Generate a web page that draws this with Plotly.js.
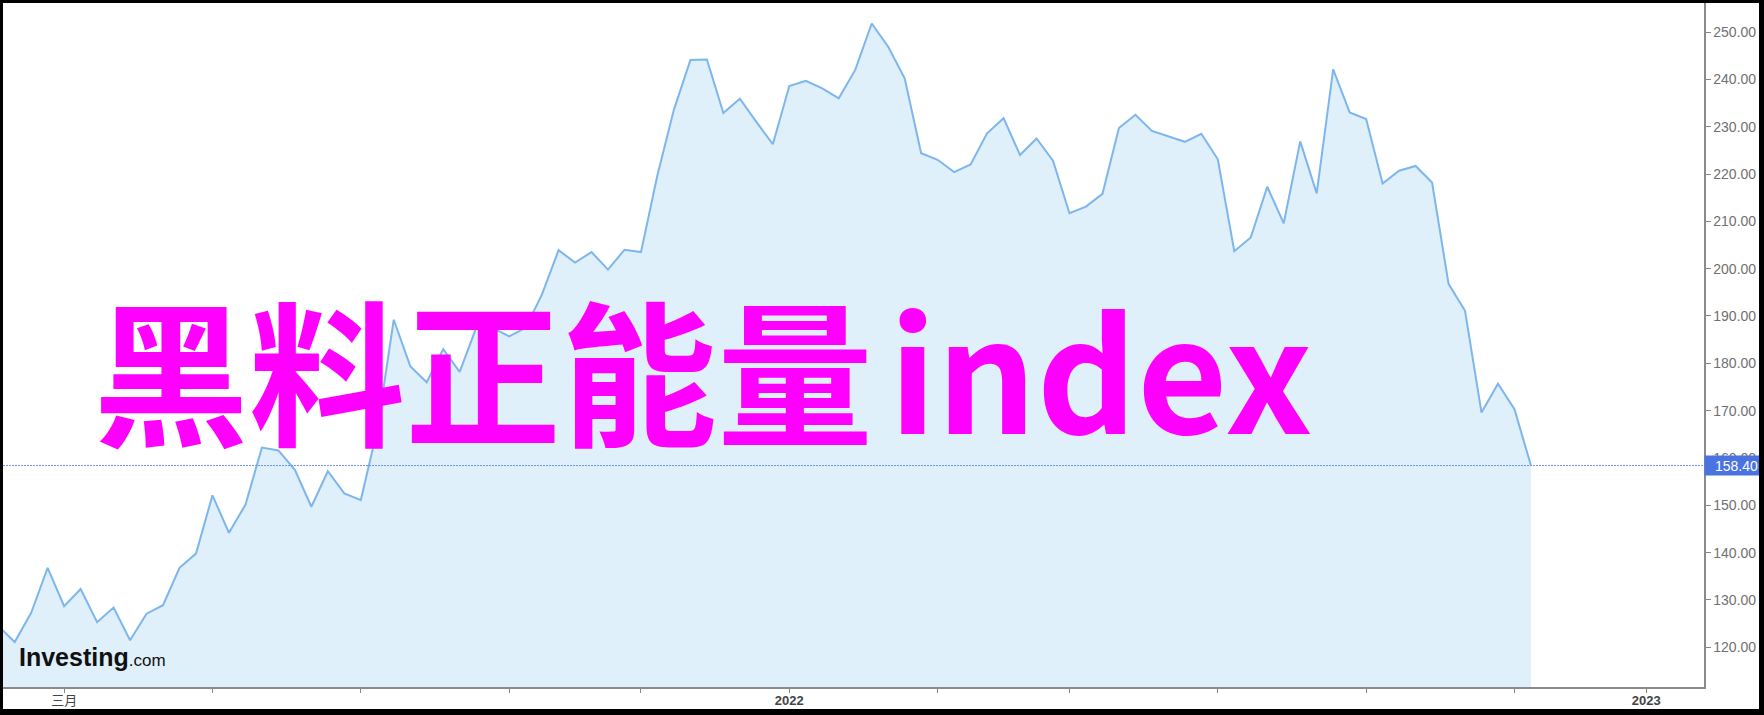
<!DOCTYPE html>
<html>
<head>
<meta charset="utf-8">
<script src="https://cdn.plot.ly/plotly-3.0.1.min.js"></script>
<style>
  html, body { margin: 0; padding: 0; background: #000; }
  #chart { position: absolute; left: 3px; top: 3px; width: 1756px; height: 706px; background: #fff; }
</style>
</head>
<body>
<div id="chart"></div>
<script>
// Weekly dates (Mondays)
const dates = [
  '2021-02-01','2021-02-08','2021-02-15','2021-02-22','2021-03-01','2021-03-08','2021-03-15','2021-03-22','2021-03-29',
  '2021-04-05','2021-04-12','2021-04-19','2021-04-26','2021-05-03','2021-05-10','2021-05-17','2021-05-24','2021-05-31',
  '2021-06-07','2021-06-14','2021-06-21','2021-06-28','2021-07-05','2021-07-12','2021-07-19','2021-07-26',
  '2021-08-02','2021-08-09','2021-08-16','2021-08-23','2021-08-30','2021-09-06','2021-09-13','2021-09-20','2021-09-27',
  '2021-10-04','2021-10-11','2021-10-18','2021-10-25','2021-11-01','2021-11-08','2021-11-15','2021-11-22','2021-11-29',
  '2021-12-06','2021-12-13','2021-12-20','2021-12-27',
  '2022-01-03','2022-01-10','2022-01-17','2022-01-24','2022-01-31','2022-02-07','2022-02-14','2022-02-21','2022-02-28',
  '2022-03-07','2022-03-14','2022-03-21','2022-03-28','2022-04-04','2022-04-11','2022-04-18','2022-04-25',
  '2022-05-02','2022-05-09','2022-05-16','2022-05-23','2022-05-30','2022-06-06','2022-06-13','2022-06-20','2022-06-27',
  '2022-07-04','2022-07-11','2022-07-18','2022-07-25','2022-08-01','2022-08-08','2022-08-15','2022-08-22','2022-08-29',
  '2022-09-05','2022-09-12','2022-09-19','2022-09-26','2022-10-03','2022-10-10','2022-10-17','2022-10-24','2022-10-31',
  '2022-11-07','2022-11-14'
];
// Weekly close values
const closes = [
  124.5,121.1,127.3,136.8,128.7,132.3,125.3,128.4,121.5,
  127.1,128.9,136.8,139.8,152.1,144.2,150.1,162.2,161.6,
  157.5,149.7,157.2,152.5,151.1,166.0,189.2,179.4,
  176.0,183.0,178.2,187.5,187.5,185.7,187.5,194.6,203.9,
  201.3,203.5,199.8,204.0,203.5,219.8,233.6,244.1,244.2,
  232.9,235.9,231.0,226.3,
  238.6,239.7,238.1,236.0,242.0,251.8,246.9,240.2,224.4,
  223.0,220.4,222.0,228.6,231.8,224.0,227.5,222.8,
  211.7,213.1,215.8,229.7,232.5,229.1,227.9,226.8,228.5,
  223.1,203.7,206.6,217.3,209.6,226.9,215.9,242.1,233.0,
  231.6,218.0,220.7,221.7,218.2,196.8,191.1,169.6,175.7,
  170.3,158.4
];
// X tick positions (first weekly point of every second month) and labels
const xTickVals = ['2021-03-01','2021-05-03','2021-07-05','2021-09-06','2021-11-01','2022-01-03',
                   '2022-03-07','2022-05-02','2022-07-04','2022-09-05','2022-11-07','2023-01-02'];
const xTickText = ['三月','','','','','<b>2022</b>','','','','','','<b>2023</b>'];
const xRange = ['2021-02-03 00:43', '2023-01-26 12:00'];
const yRange = [111.61, 256.13];
const lastValue = closes[closes.length - 1];
const watermarkCJK = '黑料正能量';
const watermarkLatin = 'index';

const trace = {
  type: 'scatter',
  mode: 'lines',
  x: dates,
  y: closes,
  line: { color: '#7db6ec', width: 2 },
  fill: 'tozeroy',
  fillcolor: '#dff0fa',
  hoverinfo: 'skip'
};

const layout = {
  width: 1756,
  height: 706,
  margin: { l: 0, r: 55, t: 0, b: 22, pad: 0 },
  paper_bgcolor: '#ffffff',
  plot_bgcolor: '#ffffff',
  showlegend: false,
  font: { family: 'Liberation Sans, Arial, "Noto Sans CJK SC", sans-serif' },
  xaxis: {
    type: 'date',
    range: xRange,
    tickmode: 'array',
    tickvals: xTickVals,
    ticktext: xTickText,
    ticks: 'outside',
    ticklen: 4,
    tickwidth: 1,
    tickcolor: '#888888',
    ticklabelstandoff: -3,
    showline: true,
    linecolor: '#8a8a8a',
    linewidth: 1.5,
    showgrid: false,
    zeroline: false,
    automargin: false,
    tickfont: { size: 13, color: '#444444', family: 'Liberation Sans, Arial, "Noto Sans CJK SC", sans-serif' }
  },
  yaxis: {
    side: 'right',
    range: yRange,
    tick0: 0,
    dtick: 10,
    tickformat: '.2f',
    ticks: 'outside',
    ticklen: 5,
    tickwidth: 1,
    tickcolor: '#888888',
    showline: true,
    linecolor: '#8a8a8a',
    linewidth: 1.5,
    showgrid: false,
    zeroline: false,
    automargin: false,
    tickfont: { size: 14, color: '#707070', family: 'Liberation Sans, Arial, sans-serif' }
  },
  shapes: [
    {
      type: 'line', xref: 'paper', x0: 0, x1: 1, yref: 'y', y0: lastValue, y1: lastValue,
      line: { color: '#7092e8', width: 1, dash: '2px,1px' }, layer: 'above'
    }
  ],
  annotations: [
    {
      xref: 'paper', yref: 'paper', x: 0.052, y: 0.470, xanchor: 'left', yanchor: 'middle',
      text: watermarkCJK.slice(0, -1) + '<span style="letter-spacing:16px">' + watermarkCJK.slice(-1) + '</span>' + watermarkLatin,
      showarrow: false,
      font: { family: '"Noto Sans CJK SC", "Noto Sans", sans-serif', size: 156, color: '#ff00ff', weight: 'bold' }
    },
    {
      xref: 'paper', yref: 'paper', x: 0.0082, y: 0.044, xanchor: 'left', yanchor: 'middle',
      text: '<b>Investing</b><span style="font-size:17px">.com</span>', showarrow: false,
      font: { family: 'Liberation Sans, Arial, sans-serif', size: 25, color: '#111111' }
    },
    {
      xref: 'paper', yref: 'y', x: 1, y: lastValue, xanchor: 'left', yanchor: 'middle',
      text: lastValue.toFixed(2), showarrow: false, align: 'right',
      width: 51, height: 15, borderpad: 2, bgcolor: '#4a72e0',
      font: { family: 'Liberation Sans, Arial, sans-serif', size: 14, color: '#ffffff' }
    }
  ]
};

Plotly.newPlot('chart', [trace], layout, { displayModeBar: false, staticPlot: true });
</script>
</body>
</html>
